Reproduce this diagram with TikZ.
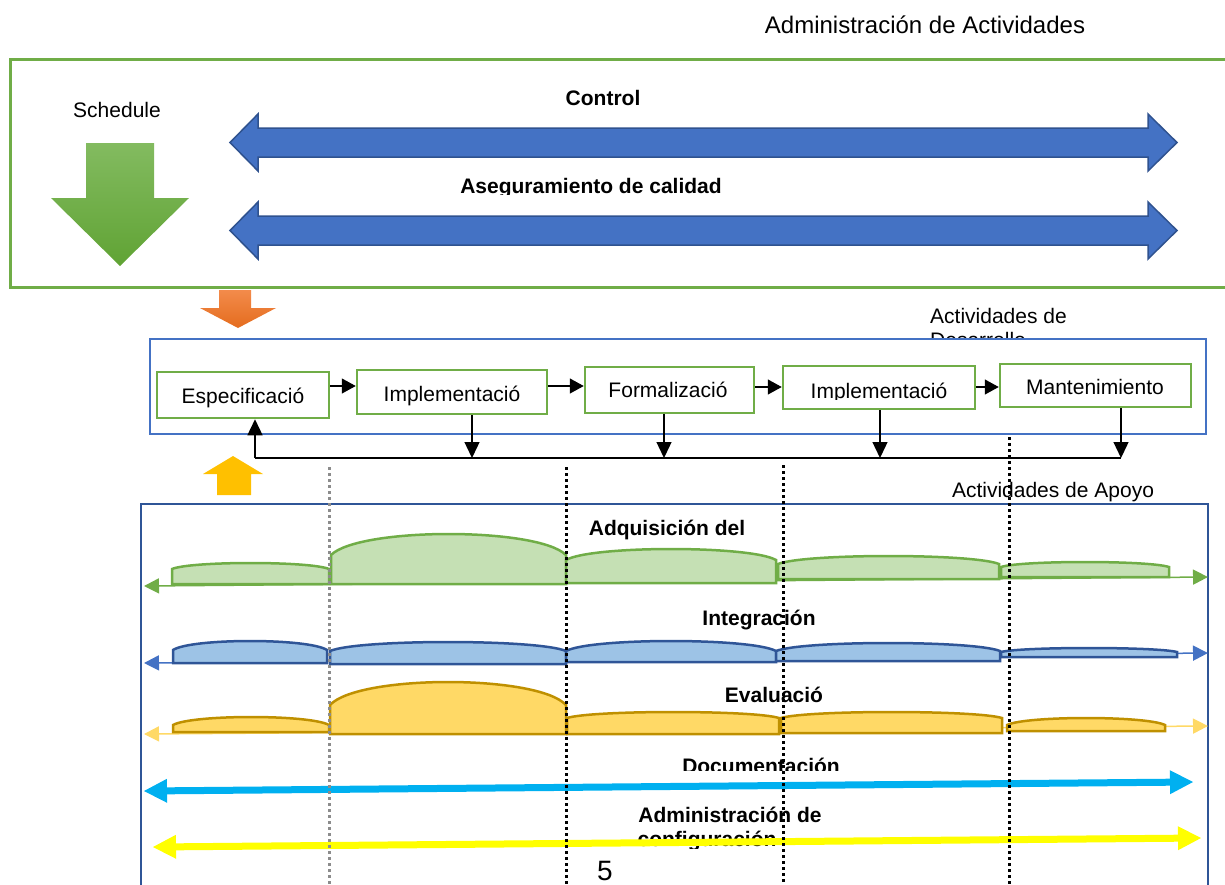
\documentclass[tikz,border=0pt]{standalone}
\usepackage{fontspec}
\setmainfont{Liberation Sans}
\usetikzlibrary{arrows.meta}

\definecolor{grn}{RGB}{112,173,71}
\definecolor{grnfill}{RGB}{197,224,180}
\definecolor{blu}{RGB}{68,114,196}
\definecolor{bluedge}{RGB}{47,82,143}
\definecolor{navy}{RGB}{47,85,151}
\definecolor{lblue}{RGB}{157,195,230}
\definecolor{gold}{RGB}{191,144,0}
\definecolor{lgold}{RGB}{255,217,102}
\definecolor{skyarrow}{RGB}{0,176,240}
\definecolor{yel}{RGB}{255,255,0}
\definecolor{amber}{RGB}{255,192,0}
\definecolor{guidegray}{RGB}{140,140,140}

% rounded-top bar on a base line: style, x1, x2, base, side top, peak
\newcommand\hump[6]{%
  \pgfmathsetmacro\humpc{(4*#6-#5)/3}%
  \pgfmathsetmacro\humpa{#2+0.12*(#3-#2)}%
  \pgfmathsetmacro\humpb{#3-0.12*(#3-#2)}%
  \path[#1] (#2,#4) -- (#2,#5) .. controls (\humpa,\humpc) and (\humpb,\humpc) .. (#3,#5) -- (#3,#4) -- cycle;}

% wide double-headed block arrow centred on a given height
\newcommand\blockarrow[1]{%
  \filldraw[fill=blu, draw=bluedge, line width=1.5pt, line join=miter]
    (230,#1) -- (258,#1-28.5) -- (258,#1-14.5) -- (1148,#1-14.5) -- (1148,#1-28.5)
    -- (1177,#1) -- (1148,#1+28.5) -- (1148,#1+14.5) -- (258,#1+14.5) -- (258,#1+28.5) -- cycle;}

\begin{document}
\begin{tikzpicture}[x=1pt,y=-1pt,
  txt/.style={anchor=base, inner sep=0pt, font=\fontsize{21}{24}\selectfont},
  btxt/.style={anchor=base, inner sep=0pt, font=\fontsize{21}{24}\selectfont\bfseries},
  stagebox/.style={draw=grn, line width=2.5pt, fill=white, inner sep=0pt},
  flow/.style={line width=1.3pt, -{Triangle[length=14pt,width=15pt]}},
  drop/.style={line width=1.3pt, -{Triangle[length=16pt,width=15pt]}},
  guide/.style={line width=3pt, dash pattern=on 3pt off 3pt},
  thin tip/.style={{Triangle[length=15pt,width=15pt]}-{Triangle[length=15pt,width=15pt]}},
  thick tip/.style={{Triangle[length=23pt,width=24pt,line width=0pt]}-{Triangle[length=23pt,width=24pt,line width=0pt]}},
  gh/.style={fill=grnfill, draw=grn, line width=2.5pt},
  bh/.style={fill=lblue, draw=navy, line width=2.5pt},
  yh/.style={fill=lgold, draw=gold, line width=2.5pt}]

\useasboundingbox (0,0) rectangle (1225,884);

% ---------- management block ----------
\node[anchor=base, inner sep=0pt, font=\fontsize{24}{28}\selectfont] (title) at (925,33) {Administración de Actividades};
\draw[grn, line width=3pt] (10,59) rectangle (1260,287);
\node[txt] (sched) at (117,117) {Schedule};
\shade[top color={rgb,255:red,131;green,187;blue,96}, bottom color={rgb,255:red,96;green,163;blue,52}]
  (86,143) -- (154,143) -- (154,198) -- (189,198) -- (120,266) -- (51,198) -- (86,198) -- cycle;
\node[btxt] (ctrl) at (603,105) {Control};
\blockarrow{142.5}
\begin{scope}
  \clip (400,160) rectangle (800,194);
  \node[btxt] (qa) at (591,193) {Aseguramiento de calidad};
\end{scope}
\blockarrow{230.5}

% ---------- development activities ----------
\shade[top color={rgb,255:red,243;green,139;blue,75}, bottom color={rgb,255:red,228;green,108;blue,30}]
  (219,290) -- (251,290) -- (251,308) -- (276,308) -- (238,328) -- (200,308) -- (219,308) -- cycle;
\node[txt, anchor=base west] (devA) at (930,323) {Actividades de};
\node[txt, anchor=base west] (devB) at (930,347) {Desarrollo};
\node[draw=blu, line width=2.5pt, fill=white, minimum width=1056pt, minimum height=95pt] (dev) at (678,386.5) {};

\node[stagebox, minimum width=172pt, minimum height=46pt] (b1) at (243,395) {};
\node[stagebox, minimum width=190pt, minimum height=44pt] (b2) at (452,392) {};
\node[stagebox, minimum width=169pt, minimum height=46pt] (b3) at (669.5,390) {};
\node[stagebox, minimum width=192pt, minimum height=43pt] (b4) at (879,387.5) {};
\node[stagebox, minimum width=191pt, minimum height=43pt] (b5) at (1095.5,385.5) {};
\node[txt] (t1) at (243,403) {Especificació};
\node[txt] (t2) at (452,401) {Implementació};
\node[txt] (t3) at (668,397) {Formalizació};
\begin{scope}
  \clip (785,368) rectangle (973,399.5);
  \node[txt] (t4) at (879,398) {Implementació};
\end{scope}
\node[txt] (t5) at (1095,394) {Mantenimiento};

\draw[flow] (b1.east |- 0,386) -- (b2.west |- 0,386);
\draw[flow] (b2.east |- 0,386) -- (b3.west |- 0,386);
\draw[flow] (b3.east |- 0,387) -- (b4.west |- 0,387);
\draw[flow] (b4.east |- 0,387) -- (b5.west |- 0,387);

\coordinate (f1) at (255,458);
\coordinate (f2) at (472,458);
\coordinate (f3) at (664,458);
\coordinate (f4) at (880,458);
\coordinate (f5) at (1121,458);
\draw[line width=1.3pt] (f1) -- (f5);
\draw[drop] (b2.south -| f2) -- (f2);
\draw[drop] (b3.south -| f3) -- (f3);
\draw[drop] (b4.south -| f4) -- (f4);
\draw[drop] (b5.south -| f5) -- (f5);
\draw[drop] (f1) -- (b1.south -| f1);

\fill[amber] (233,456) -- (263,474) -- (251,474) -- (251,495) -- (217,495) -- (217,474) -- (203,474) -- cycle;

% ---------- support activities ----------
\node[txt] (supp) at (1053,497) {Actividades de Apoyo};
\draw[navy, line width=2.5pt] (141,900) -- (141,504) -- (1208,504) -- (1208,900);

\node[btxt] (acq) at (667,535) {Adquisición del};
\draw[grn, line width=1.5pt, thin tip] (144,586) -- (1208,577);
\hump{gh}{172}{329}{584}{569}{563}
\hump{gh}{331}{566}{584}{555}{534}
\hump{gh}{566}{776}{583}{560}{549}
\hump{gh}{778}{999}{579}{564}{556}
\hump{gh}{1001}{1169}{577}{567}{562}

\node[btxt] (integ) at (759,625) {Integración};
\draw[blu, line width=1.5pt, thin tip] (144,663) -- (1208,653);
\hump{bh}{173}{327}{663}{650}{641}
\hump{bh}{330}{566}{664}{651}{642}
\hump{bh}{566}{776}{662}{651}{641}
\hump{bh}{776}{1000}{661}{651}{643}
\hump{bh}{1001}{1177}{657}{652}{648}

\node[btxt] (eval) at (774,702) {Evaluació};
\draw[lgold, line width=1.5pt, thin tip] (144,734) -- (1208,726);
\hump{yh}{173}{329}{732}{725}{717}
\hump{yh}{330}{566}{734}{705}{682}
\hump{yh}{567}{779}{734}{718}{712}
\hump{yh}{781}{1002}{733}{718}{712}
\hump{yh}{1007}{1165}{731}{725}{718}

\begin{scope}
  \clip (600,740) rectangle (900,770);
  \node[btxt] (docs) at (761,773) {Documentación};
\end{scope}
\draw[skyarrow, line width=7pt, thick tip] (144,791) -- (1193,782);

\node[btxt] (cfgA) at (730,822) {Administración de};
\begin{scope}
  \clip (600,830) rectangle (850,848);
  \node[btxt] (cfgB) at (707,846) {configuración};
\end{scope}
\draw[yel, line width=7pt, thick tip] (153,847) -- (1201,838);

\node[anchor=base, inner sep=0pt, font=\fontsize{28}{32}\selectfont] (page) at (605,880) {5};

% phase boundaries
\draw[guide, guidegray] (329,467) -- (329,890);
\draw[guide] (566,467) -- (566,890);
\draw[guide] (783,465) -- (783,890);
\draw[guide] (1009,437) -- (1009,890);
\end{tikzpicture}
\end{document}
